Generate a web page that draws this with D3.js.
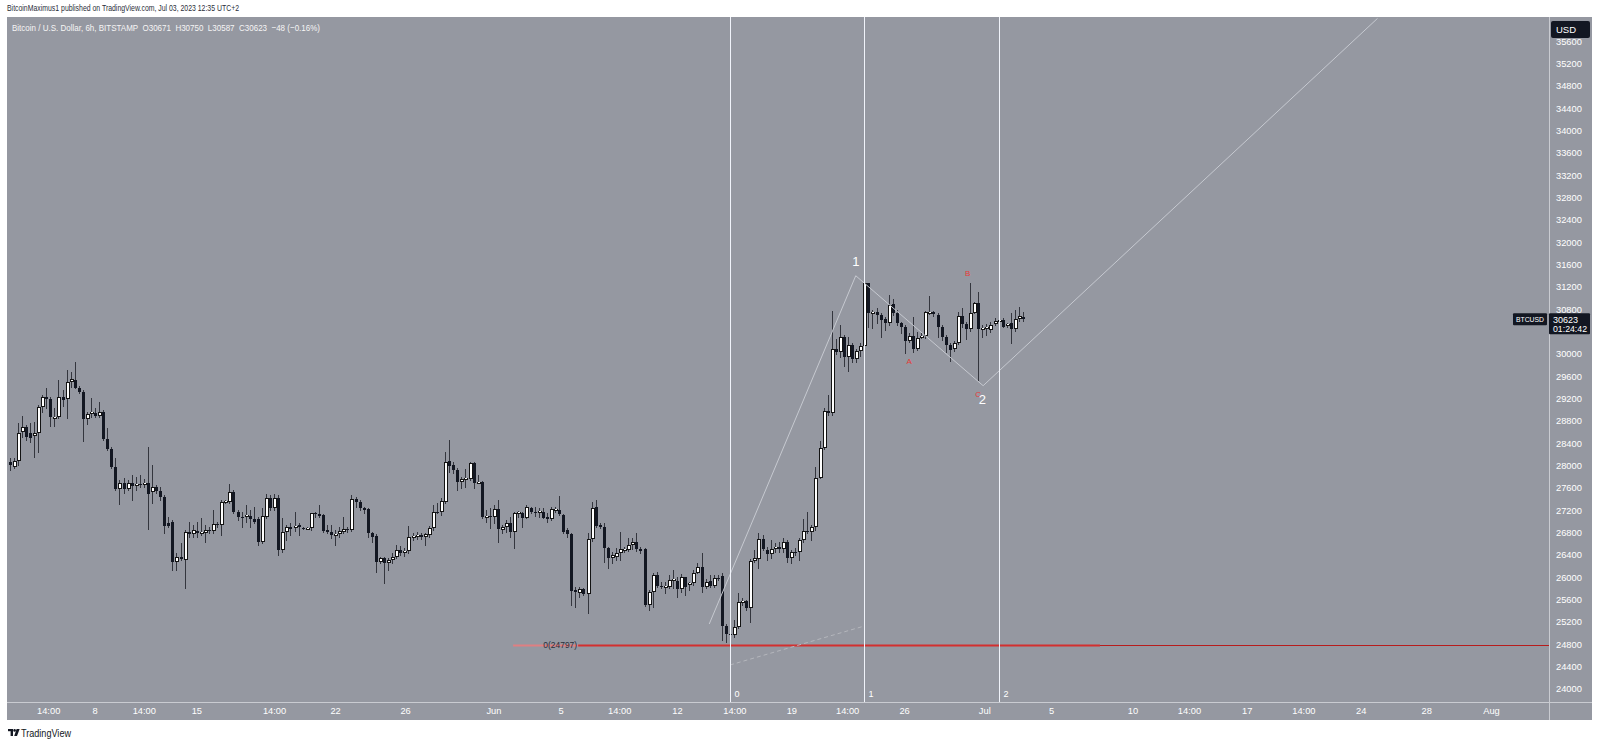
<!DOCTYPE html>
<html><head><meta charset="utf-8">
<script src="https://cdn.jsdelivr.net/npm/d3@7/dist/d3.min.js"></script>
<style>
html,body{margin:0;padding:0;background:#fff;overflow:hidden;}
svg{display:block;}
text{font-family:'Liberation Sans',Arial,sans-serif;}
</style></head><body>
<svg id="chart" width="1600" height="746"></svg>
<script>
// ---- DATA (BTC/USD 6h, Bitstamp) ----
const opens=[28072,27982,28090,28609,28687,28579,28532,28579,29045,29224,
29188,28866,28866,29236,29188,29505,29535,29397,29314,28836,
28926,28950,28896,28956,28472,28299,27970,27582,27696,27582,
27684,27642,27672,27654,27696,27535,27624,27553,27433,26979,
26997,26281,26370,26311,26806,26770,26830,26800,26800,26848,
26830,26956,26938,27356,27350,27535,27176,27087,27075,27105,
27045,27039,26639,27087,27415,27236,27415,26490,26818,26896,
26878,26932,26890,26872,26890,27159,27135,27117,26850,26818,
26759,26770,26818,26872,26848,27409,27344,27236,27224,26788,
26740,26281,26341,26263,26311,26359,26490,26440,26470,26729,
26729,26752,26729,26758,26878,27176,27164,27355,28084,28012,
27923,27708,27755,27755,28054,27696,27714,27087,27105,27075,
27218,26848,26908,26967,26818,27158,27146,27069,27248,27170,
27150,27176,27087,27045,27218,27206,27117,26848,26776,25773,
25725,25791,25702,26681,27254,26932,26908,26532,26352,26370,
26430,26502,26490,26580,26627,26502,26502,25505,25743,26042,
25851,25833,25833,25952,25940,25791,26000,25881,25893,26084,
26191,25833,25940,25851,25994,26024,25134,24985,24967,25117,
25535,25576,25445,26298,26322,26681,26490,26418,26519,26549,
26502,26627,26340,26460,26448,26669,26830,26818,26896,27785,
28322,28979,28937,30084,30030,30298,29950,30160,29905,30060,
30150,31266,30728,30758,30698,30621,30549,30895,30740,30549,
30490,30239,30328,30090,30298,30328,30740,30758,30698,30478,
30310,30161,30084,30191,30681,30537,30448,30740,30907,30442,
30472,30430,30537,30591,30609,30501,30549,30442,30633,30671];
const highs=[28132,28132,28770,28890,28729,28759,28788,29087,29266,29385,
29236,29027,29535,29356,29714,29684,29863,29427,29356,28967,
29206,29027,29147,28997,28669,28329,28132,27744,27774,27744,
27833,27803,27833,27756,28341,28012,27654,27624,27475,27087,
27027,26430,26609,26848,26997,26938,26997,27057,26938,26908,
27206,26997,27385,27385,27672,27565,27206,27176,27296,27206,
27266,27087,27236,27493,27475,27487,27475,27057,26938,26967,
27176,26967,26908,26908,27159,27176,27296,27135,26938,26938,
26848,26908,27087,26908,27475,27445,27385,27266,27236,26818,
26770,26370,26370,26341,26430,26580,26560,26520,26920,26800,
26818,26788,26800,26920,27296,27326,27415,28251,28460,28072,
27952,27803,27934,28072,28072,27833,27720,27206,27236,27296,
27385,26938,27027,27087,27176,27194,27176,27296,27266,27266,
27236,27236,27146,27254,27254,27457,27135,26878,26800,25833,
25833,25803,26788,27355,27385,26967,26967,26550,26460,26520,
26818,26550,26699,26700,26788,26550,26520,25773,26072,26102,
25923,25923,26042,26132,26012,26060,26012,25923,26132,26251,
26430,25964,26042,26042,26042,26072,25164,25057,25236,25714,
25624,25594,26322,26490,26788,26758,26549,26669,26609,26639,
26699,26669,26490,26519,26699,27039,27176,26937,27970,28448,
29027,29266,30770,30263,30519,30340,30300,30190,30090,30200,
31445,31278,30788,30818,30728,30669,31057,30979,30788,30579,
30519,30370,30669,30400,30370,30770,31039,30770,30728,30519,
30340,30191,30239,30758,30818,30579,31278,30937,31116,30519,
30537,30579,30651,30640,30640,30561,30728,30788,30848,30750];
const lows=[27923,27953,28012,28520,28460,28430,28162,28251,28967,29027,
28711,28711,28848,29069,28848,29415,29385,29296,28442,28747,
28866,28866,28878,28460,28281,27953,27565,27314,27505,27565,
27385,27565,27624,27624,26860,27326,27505,27385,26788,26908,
26132,26132,26311,25803,26729,26729,26729,26759,26627,26788,
26800,26896,26759,27326,27326,27159,27027,26908,26997,26908,
26979,26580,26609,27057,27206,27206,26400,26460,26669,26759,
26836,26759,26860,26860,26848,27087,27087,26818,26788,26699,
26580,26729,26788,26818,26836,27266,27206,27147,26717,26639,
26102,26251,25893,26132,26251,26341,26400,26380,26430,26669,
26681,26687,26579,26729,26848,27146,27117,27338,27893,27863,
27564,27594,27624,27743,27594,27684,27057,26997,26878,26967,
26639,26788,26818,26729,26520,27087,26908,27057,27146,27099,
27087,27057,26997,27027,27176,27117,26788,26729,25505,25475,
25654,25684,25367,26657,26908,26878,26281,26162,26251,26311,
26311,26460,26478,26500,26478,26430,25487,25415,25475,25833,
25803,25714,25803,25803,25654,25743,25684,25773,25863,26072,
25743,25803,25833,25833,25952,24878,24848,24797,24938,25087,
25505,25415,25206,26281,26161,26490,26310,26340,26460,26460,
26460,26281,26263,26400,26310,26639,26788,26669,26848,27773,
28298,28907,28907,30000,29952,29785,29700,29860,29865,29960,
29950,30490,30460,30549,30310,30430,30519,30698,30519,30370,
30024,30221,30042,30072,30281,30281,30716,30681,30310,30251,
30042,29881,30060,30179,30478,30263,30418,30728,29534,30310,
30340,30400,30519,30579,30478,30478,30191,30418,30597,30587];
const closes=[28012,28090,28591,28687,28508,28490,28591,29045,29224,29188,
28866,28878,29224,29177,29505,29547,29397,29314,28836,28926,
28956,28896,28956,28472,28299,27970,27582,27696,27582,27696,
27642,27672,27654,27696,27493,27624,27553,27433,26926,26926,
26281,26359,26329,26818,26770,26842,26800,26812,26848,26830,
26956,26938,27356,27367,27535,27176,27075,27057,27117,27039,
26997,26639,27099,27415,27236,27415,26490,26818,26896,26872,
26926,26896,26872,26890,27147,27135,27105,26836,26818,26759,
26777,26836,26872,26860,27397,27344,27236,27206,26788,26729,
26281,26341,26263,26311,26370,26490,26440,26470,26729,26741,
26758,26729,26770,26878,27176,27164,27367,28072,28000,27923,
27714,27755,27773,28054,27696,27714,27087,27105,27075,27218,
26860,26908,26967,26818,27158,27170,27069,27266,27170,27150,
27188,27069,27045,27218,27230,27129,26818,26776,25761,25743,
25785,25702,26681,27236,26920,26908,26520,26352,26400,26442,
26502,26514,26580,26627,26502,26478,25505,25743,26042,25851,
25833,25851,25952,25964,25791,26000,25821,25905,26084,26191,
25833,25923,25851,25994,25976,25134,24985,24967,25117,25564,
25576,25445,26298,26340,26681,26502,26418,26502,26549,26502,
26627,26340,26460,26448,26669,26830,26806,26896,27773,28322,
28979,28937,30084,30030,30298,29950,30160,29905,30060,30150,
31280,30728,30758,30698,30609,30549,30878,30728,30549,30478,
30239,30328,30090,30281,30328,30746,30758,30716,30478,30310,
30161,30072,30191,30681,30537,30448,30740,30907,30442,30472,
30490,30519,30591,30609,30490,30537,30442,30633,30681,30623];

// price axis ticks
const priceTicks = d3.range(24000, 35601, 400);
// time axis labels and the bar index they sit on
const timeLabels = ["14:00","8","14:00","15","14:00","22","26","Jun","5","14:00","12","14:00","19","14:00","26","Jul","5","10","14:00","17","14:00","24","28","Aug"];
const timeLabelBars = [9.6,21,33.1,46,65.1,80.1,97.3,119,135.5,149.9,164.1,178.2,192.2,205.9,219.9,239.6,256,276,289.9,304.1,318,332.1,348.2,364.1];
// wave drawing: vertical markers, zig-zag, fib level
const markerBars = [177, 210, 243];
const markerLabels = ["0", "1", "2"];
const waveBars   = [171.9, 207.9, 239.2, 336.1];
const wavePrices = [25164, 31402, 29432, 36011];
const waveLabels = [{t:"1", bar:207.9, price:31640, c:"#ffffff", s:13},
                    {t:"B", bar:235.4, price:31430, c:"#e53935", s:8},
                    {t:"A", bar:221.0, price:29850, c:"#e53935", s:8},
                    {t:"C", bar:238.0, price:29260, c:"#e53935", s:8},
                    {t:"2", bar:239.0, price:29160, c:"#ffffff", s:13}];
const dashedBars = [177, 210];
const dashedPrices = [24430, 25128];
const fibPrice = 24797;
const fibBars = [123.7, 139.7, 267.9];
const lastPrice = 30623;

// ---- LAYOUT ----
const svg = d3.select('#chart');
const W = 1600, H = 746;
const panel = {l:7, t:17, r:1592, b:720};
const plot = {l:7, t:17, r:1549, b:702};
const barW = 4.07;
const x = d3.scaleLinear().domain([0, 100]).range([9.6, 9.6 + 100*barW]);
const y = d3.scaleLinear().domain([24000, 30000]).range([689, 354]);

svg.append('rect').attr('x',0).attr('y',0).attr('width',W).attr('height',H).attr('fill','#ffffff');
svg.append('rect').attr('x',panel.l).attr('y',panel.t).attr('width',panel.r-panel.l).attr('height',panel.b-panel.t).attr('fill','#9598a1');

svg.append('defs').append('clipPath').attr('id','pc').append('rect')
  .attr('x',plot.l).attr('y',plot.t).attr('width',plot.r-plot.l).attr('height',plot.b-plot.t);

// header
svg.append('text').attr('x',7).attr('y',10.5).attr('font-size',9).attr('fill','#2a2e39')
  .attr('textLength',232).attr('lengthAdjust','spacingAndGlyphs')
  .text('BitcoinMaximus1 published on TradingView.com, Jul 03, 2023 12:35 UTC+2');

// axis separators
svg.append('line').attr('x1',plot.r+0.5).attr('x2',plot.r+0.5).attr('y1',panel.t).attr('y2',panel.b).attr('stroke','#c9cbd1').attr('stroke-width',1);
svg.append('line').attr('x1',panel.l).attr('x2',panel.r).attr('y1',plot.b+0.5).attr('y2',plot.b+0.5).attr('stroke','#c9cbd1').attr('stroke-width',1);

const g = svg.append('g').attr('clip-path','url(#pc)');

// candles
const bars = opens.map((o,i)=>({i, o, h:highs[i], l:lows[i], c:closes[i]}));
bars.forEach(d=>{
  const cx = Math.round(x(d.i));
  const hi = Math.max(d.h, d.o, d.c), lo = Math.min(d.l, d.o, d.c);
  g.append('line').attr('x1',cx+0.5).attr('x2',cx+0.5)
    .attr('y1',Math.round(y(hi))).attr('y2',Math.round(y(lo))+1)
    .attr('stroke','#34363e').attr('stroke-width',1);
  const top = Math.round(y(Math.max(d.o,d.c)));
  const bot = Math.round(y(Math.min(d.o,d.c)));
  const hh = Math.max(1, bot-top);
  if (d.c >= d.o) {
    g.append('rect').attr('x',cx-1).attr('y',top).attr('width',4).attr('height',Math.max(2,hh)).attr('fill','#131313');
    if (hh > 2) g.append('rect').attr('x',cx).attr('y',top+1).attr('width',2).attr('height',hh-2).attr('fill','#ffffff');
    else g.append('rect').attr('x',cx).attr('y',top).attr('width',2).attr('height',1).attr('fill','#ffffff');
  } else {
    g.append('rect').attr('x',cx-1).attr('y',top).attr('width',3).attr('height',hh).attr('fill','#131722');
  }
});

// fib level 0 line
const fy = Math.round(y(fibPrice))+0.5;
g.append('line').attr('x1',x(fibBars[0])).attr('x2',x(fibBars[1])).attr('y1',fy).attr('y2',fy)
  .attr('stroke','#df7f82').attr('stroke-width',2);
g.append('line').attr('x1',x(fibBars[1])).attr('x2',x(fibBars[2])).attr('y1',fy).attr('y2',fy)
  .attr('stroke','#d32f2f').attr('stroke-width',2);
g.append('line').attr('x1',x(fibBars[2])).attr('x2',plot.r).attr('y1',fy).attr('y2',fy)
  .attr('stroke','#b71c1c').attr('stroke-width',1);
g.append('text').attr('x',x(fibBars[1])-1).attr('y',y(fibPrice)+3.5).attr('text-anchor','end')
  .attr('font-size',9).attr('fill','#2a2e39').attr('textLength',34).attr('lengthAdjust','spacingAndGlyphs')
  .text('0(' + fibPrice + ')');

// dashed trend line
g.append('line').attr('x1',x(dashedBars[0])).attr('y1',y(dashedPrices[0])).attr('x2',x(dashedBars[1])).attr('y2',y(dashedPrices[1]))
  .attr('stroke','#b4b6bc').attr('stroke-width',1).attr('stroke-dasharray','4,3');

// wave zig-zag
const wave = waveBars.map((b,k)=>[x(b), y(wavePrices[k])]);
g.append('path').attr('d', d3.line()(wave)).attr('fill','none').attr('stroke','#c6c9d0').attr('stroke-width',1);

// vertical markers
markerBars.forEach((b,k)=>{
  const xx = Math.round(x(b))+0.5;
  g.append('line').attr('x1',xx).attr('x2',xx).attr('y1',plot.t).attr('y2',plot.b).attr('stroke','#f0f3fa').attr('stroke-width',1);
  g.append('text').attr('x',xx+4).attr('y',697).attr('font-size',9).attr('fill','#ffffff').text(markerLabels[k]);
});

// wave labels
waveLabels.forEach(d=>{
  g.append('text').attr('x',x(d.bar)).attr('y',y(d.price)).attr('text-anchor','middle').attr('dominant-baseline','middle')
    .attr('font-size',d.s).attr('fill',d.c).text(d.t);
});

// legend
const lastO = opens[opens.length-1], lastH = highs[highs.length-1], lastL = lows[lows.length-1], lastC = closes[closes.length-1];
const chg = lastC - lastO;
const legendText = 'Bitcoin / U.S. Dollar, 6h, BITSTAMP  O' + lastO + '  H' + lastH + '  L' + lastL + '  C' + lastC +
  '  \u2212' + Math.abs(chg) + ' (\u2212' + (Math.abs(chg)/lastO*100).toFixed(2) + '%)';
svg.append('text').attr('x',12).attr('y',30.5).attr('font-size',9.5).attr('fill','#f5f5f5')
  .attr('textLength',308).attr('lengthAdjust','spacingAndGlyphs').attr('xml:space','preserve').text(legendText);

// last price label position (tick labels under it are hidden, as on the original)
const ly = y(lastPrice);

// price axis
priceTicks.filter(p => { const yy = y(p); return !(yy > ly - 8 && yy < ly + 19); }).forEach(p=>{
  svg.append('text').attr('x',1556).attr('y',y(p)+3.3).attr('font-size',9.3).attr('fill','#ffffff').text(p);
});
// USD box
svg.append('rect').attr('x',1551).attr('y',21).attr('width',39).attr('height',17).attr('rx',2).attr('fill','#131722');
svg.append('text').attr('x',1556).attr('y',32.5).attr('font-size',9.5).attr('fill','#ffffff').text('USD');

// last price label
svg.append('rect').attr('x',1513).attr('y',ly-6).attr('width',34).attr('height',12).attr('rx',1).attr('fill','#131722');
svg.append('text').attr('x',1530).attr('y',ly+3).attr('text-anchor','middle').attr('font-size',7.5).attr('fill','#ffffff')
  .attr('textLength',28).attr('lengthAdjust','spacingAndGlyphs').text('BTCUSD');
svg.append('rect').attr('x',1549).attr('y',ly-6).attr('width',41).attr('height',21).attr('rx',1).attr('fill','#131722');
svg.append('text').attr('x',1553).attr('y',ly+3.3).attr('font-size',9).attr('fill','#ffffff').text(lastPrice);
svg.append('text').attr('x',1553).attr('y',ly+12.5).attr('font-size',9).attr('fill','#ffffff')
  .attr('textLength',34).attr('lengthAdjust','spacingAndGlyphs').text('01:24:42');

// time axis
timeLabels.forEach((t,k)=>{
  svg.append('text').attr('x',x(timeLabelBars[k])).attr('y',714).attr('text-anchor','middle').attr('font-size',9.3).attr('fill','#ffffff').text(t);
});

// footer logo
const logo = svg.append('g').attr('transform','translate(8,729)').attr('fill','#131722');
logo.append('rect').attr('x',0).attr('y',0).attr('width',5).attr('height',2.2);
logo.append('rect').attr('x',2.6).attr('y',0).attr('width',2.4).attr('height',7);
logo.append('circle').attr('cx',6.6).attr('cy',1.4).attr('r',1.3);
logo.append('path').attr('d','M8.6,0 L11.6,0 L9,7 L6.2,7 Z');
svg.append('text').attr('x',21).attr('y',736.5).attr('font-size',10).attr('fill','#131722')
  .attr('textLength',50).attr('lengthAdjust','spacingAndGlyphs').text('TradingView');
</script>
</body></html>
